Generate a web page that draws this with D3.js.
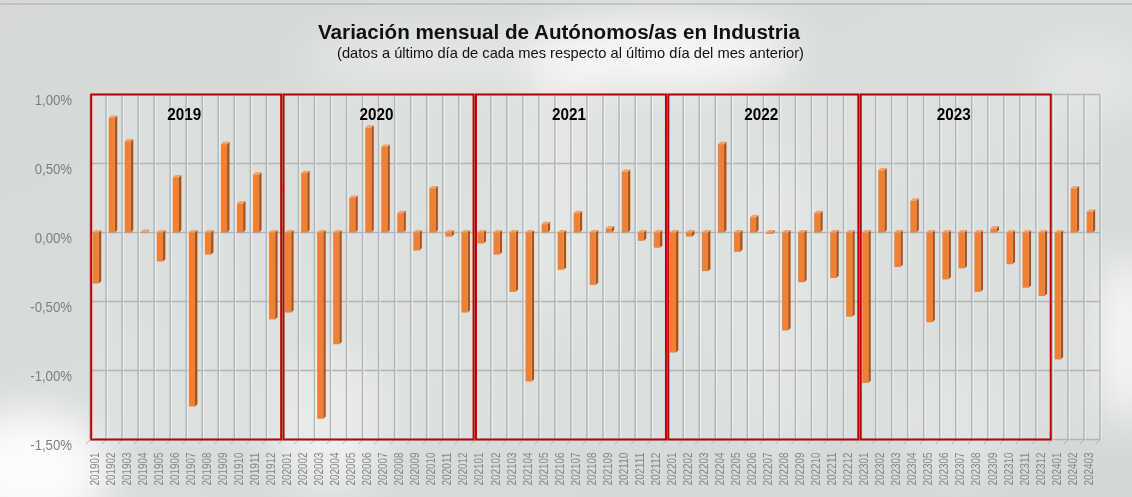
<!DOCTYPE html>
<html><head><meta charset="utf-8">
<script src="https://cdn.jsdelivr.net/npm/d3@7"></script>
<style>html,body{margin:0;padding:0;overflow:hidden;background:#d8dbdb}</style>
</head><body>
<svg id="chart" width="1132" height="497"></svg>
<script>
// ---------- data ----------
const categories = [
  "201901","201902","201903","201904","201905","201906","201907","201908","201909","201910","201911","201912",
  "202001","202002","202003","202004","202005","202006","202007","202008","202009","202010","202011","202012",
  "202101","202102","202103","202104","202105","202106","202107","202108","202109","202110","202111","202112",
  "202201","202202","202203","202204","202205","202206","202207","202208","202209","202210","202211","202212",
  "202301","202302","202303","202304","202305","202306","202307","202308","202309","202310","202311","202312",
  "202401","202402","202403"
];
const values2019 = [-0.37, 0.83, 0.66, 0.005, -0.21, 0.40, -1.26, -0.16, 0.64, 0.21, 0.42, -0.63];
const values2020 = [-0.58, 0.43, -1.35, -0.81, 0.25, 0.76, 0.62, 0.14, -0.13, 0.32, -0.03, -0.58];
const values2021 = [-0.08, -0.16, -0.43, -1.08, 0.06, -0.27, 0.14, -0.38, 0.03, 0.44, -0.06, -0.11];
const values2022 = [-0.87, -0.03, -0.28, 0.64, -0.14, 0.11, -0.01, -0.71, -0.36, 0.14, -0.33, -0.61];
const values2023 = [-1.09, 0.45, -0.25, 0.23, -0.65, -0.34, -0.26, -0.43, 0.03, -0.23, -0.40, -0.46];
const values2024 = [-0.92, 0.32, 0.15];
const values = [...values2019, ...values2020, ...values2021, ...values2022, ...values2023, ...values2024];
const yearLabels = ["2019","2020","2021","2022","2023"];
const yTicks = [-1.5, -1, -0.5, 0, 0.5, 1];
const titleText = "Variación mensual de Autónomos/as en Industria";
const subtitleText = "(datos a último día de cada mes respecto al último día del mes anterior)";

// ---------- setup ----------
const W = 1132, H = 497;
const svg = d3.select("#chart");
const defs = svg.append("defs");
const FONT = "'Liberation Sans', Arial, sans-serif";

// background
const bg = defs.append("linearGradient").attr("id","bg").attr("x1","0").attr("y1","0").attr("x2","1").attr("y2","1");
bg.append("stop").attr("offset","0").attr("stop-color","#d6d8d8");
bg.append("stop").attr("offset","0.5").attr("stop-color","#dadddd");
bg.append("stop").attr("offset","1").attr("stop-color","#d4d7d7");
defs.append("filter").attr("id","blur").attr("x","-50%").attr("y","-50%").attr("width","200%").attr("height","200%")
  .append("feGaussianBlur").attr("stdDeviation", 22);
svg.append("rect").attr("width",W).attr("height",H).attr("fill","url(#bg)");
const blobs = svg.append("g").attr("filter","url(#blur)");
[[660,55,140,35,0.8],[30,470,80,60,0.9],[1125,340,25,90,0.9],[330,420,60,70,0.55],[560,180,40,140,0.35],
 [780,300,50,160,0.3],[960,420,60,60,0.3],[420,60,120,25,0.4],[1090,80,60,40,0.3]].forEach(b=>{
  blobs.append("ellipse").attr("cx",b[0]).attr("cy",b[1]).attr("rx",b[2]).attr("ry",b[3])
    .attr("fill","#ffffff").attr("opacity",b[4]);
});
svg.append("line").attr("x1",0).attr("x2",W).attr("y1",4).attr("y2",4).attr("stroke","#a9abab").attr("stroke-width",1);

// scales
const x = d3.scaleBand().domain(categories).range([90, 1100]).padding(0);
const y = d3.scaleLinear().domain([-1.5, 1]).range([439.5, 94.5]);
const bw = x.bandwidth();

// plot background
svg.append("rect").attr("x",90).attr("y",94.5).attr("width",1010).attr("height",345)
  .attr("fill","#e2e5e5").attr("opacity",0.45);

// horizontal gridlines
svg.append("g").selectAll("line").data(yTicks).join("line")
  .attr("x1",90).attr("x2",1100).attr("y1",d=>y(d)).attr("y2",d=>y(d))
  .attr("stroke","#b3b5b5").attr("stroke-width",1.6);
// vertical gridlines
const vb = categories.map(c=>x(c)).concat([x(categories[categories.length-1])+bw]);
const vg = svg.append("g");
vg.selectAll("line.g").data(vb).join("line").attr("class","g")
  .attr("x1",d=>d).attr("x2",d=>d).attr("y1",94.5).attr("y2",439.5)
  .attr("stroke","#b3b5b5").attr("stroke-width",1.4);
vg.selectAll("line.h").data(vb).join("line").attr("class","h")
  .attr("x1",d=>d+1.5).attr("x2",d=>d+1.5).attr("y1",94.5).attr("y2",439.5)
  .attr("stroke","#ffffff").attr("stroke-width",0.8).attr("opacity",0.6);
// floor ticks
vg.selectAll("line.f").data(vb).join("line").attr("class","f")
  .attr("x1",d=>d).attr("x2",d=>d-4).attr("y1",440).attr("y2",444)
  .attr("stroke","#b0b2b2").attr("stroke-width",1);

// year boxes
const years = yearLabels.map((yl,i)=>{
  const x0 = x(categories[i*12]), x1 = x(categories[i*12+11]) + bw;
  return {label: yl, x0, x1};
});
svg.append("g").selectAll("rect").data(years).join("rect")
  .attr("x",d=>d.x0+1.2).attr("y",94.5).attr("width",d=>d.x1-d.x0-2.4).attr("height",345)
  .attr("fill","none").attr("stroke","#c00000").attr("stroke-width",2);
svg.append("g").selectAll("text").data(years).join("text")
  .attr("x",d=>(d.x0+d.x1)/2-2).attr("y",120).attr("text-anchor","middle")
  .attr("font-family",FONT).attr("font-weight","bold").attr("font-size",17).attr("fill","#000")
  .attr("textLength",34).attr("lengthAdjust","spacingAndGlyphs").text(d=>d.label);

// bars (3D-like)
const off = bw*0.17, fw = bw*0.38, dep = 2.4;
const data = categories.map((c,i)=>({c, v: values[i]}));
const bars = svg.append("g").selectAll("g").data(data).join("g");
bars.append("polygon") // side
  .attr("points", d=>{
    const xr = x(d.c)+off+fw, t = y(Math.max(0,d.v)), b = y(Math.min(0,d.v));
    return [[xr,t],[xr+dep,t-dep],[xr+dep,b-dep],[xr,b]].join(" ");
  }).attr("fill","#a8521c");
bars.append("polygon") // top
  .attr("points", d=>{
    const xl = x(d.c)+off, xr = xl+fw, t = y(Math.max(0,d.v));
    return [[xl,t],[xl+dep,t-dep],[xr+dep,t-dep],[xr,t]].join(" ");
  }).attr("fill","#f6a062");
bars.append("rect") // front
  .attr("x", d=>x(d.c)+off).attr("width", fw)
  .attr("y", d=>y(Math.max(0,d.v))).attr("height", d=>Math.abs(y(d.v)-y(0)))
  .attr("fill","#ee8133");

// axes
const loc = d3.formatLocale({decimal:",", thousands:".", grouping:[3], currency:["","€"], minus:"-"});
const f2 = loc.format(".2f");
const yAxis = svg.append("g").attr("transform","translate(72,0)")
  .call(d3.axisLeft(y).tickValues(yTicks).tickSize(0).tickPadding(0).tickFormat(d=>f2(d)+"%"));
yAxis.select(".domain").remove();
yAxis.selectAll("text").attr("font-family",FONT).attr("font-size",15.5).attr("fill","#7d7f7f").attr("dy","0.62em")
  .each(function(){ const l=this.getComputedTextLength(); d3.select(this).attr("textLength",l*0.85).attr("lengthAdjust","spacingAndGlyphs"); });

const xAxis = svg.append("g").attr("transform","translate(0,440)")
  .call(d3.axisBottom(x).tickSize(0).tickPadding(0));
xAxis.select(".domain").remove();
xAxis.selectAll("text").attr("transform","rotate(-90)").attr("text-anchor","end")
  .attr("x",-12.5).attr("y",bw*0.5-7.3).attr("dy","0")
  .attr("font-family",FONT).attr("font-size",12.5).attr("fill","#858787")
  .attr("textLength",33).attr("lengthAdjust","spacingAndGlyphs");

// titles
svg.append("text").attr("x",559).attr("y",39).attr("text-anchor","middle")
  .attr("font-family",FONT).attr("font-weight","bold").attr("font-size",19.5).attr("fill","#111")
  .attr("textLength",482).attr("lengthAdjust","spacingAndGlyphs").text(titleText);
svg.append("text").attr("x",570.5).attr("y",58).attr("text-anchor","middle")
  .attr("font-family",FONT).attr("font-size",14.5).attr("fill","#111")
  .attr("textLength",467).attr("lengthAdjust","spacingAndGlyphs").text(subtitleText);
</script>
</body></html>
